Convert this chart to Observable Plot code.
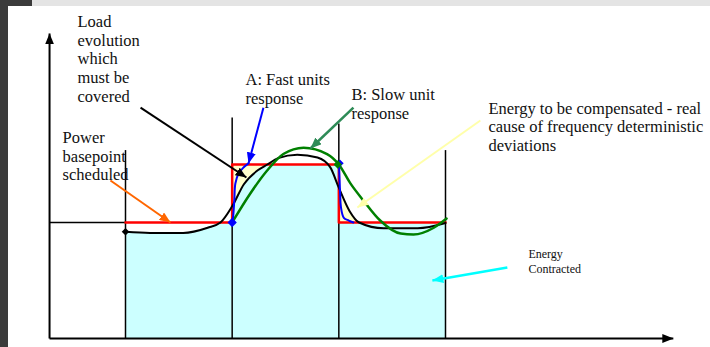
<!DOCTYPE html>
<html>
<head>
<meta charset="utf-8">
<script src="https://cdn.jsdelivr.net/npm/d3@7"></script>
<script src="https://cdn.jsdelivr.net/npm/@observablehq/plot@0.6"></script>
<style>
  html, body { margin: 0; padding: 0; background: #fff; }
</style>
</head>
<body>
<div id="chart"></div>
<script>
// ---- Data (time in scheduling periods, power in % of base) ----
const stepStart = [1, 2, 3];
const stepEnd   = [2, 3, 4];
const stepLevel = [100, 150, 100];

const dividerT   = [1, 2, 3, 4];
const dividerTop = [162, 190, 185, 162];

const loadT = [1, 1.23, 1.54, 1.77, 1.89, 2.0, 2.11, 2.24, 2.33, 2.43, 2.61, 2.8, 2.92, 3.0, 3.1, 3.19, 3.42, 3.74, 4.0];
const loadP = [92, 91, 91, 95.5, 100, 114, 133, 145, 150, 155.5, 158.5, 156, 147.5, 130, 110, 100, 95, 95, 99.5];

const slowT = [2.0, 2.17, 2.33, 2.48, 2.67, 2.89, 3.0, 3.11, 3.23, 3.39, 3.58, 3.7, 3.89, 4.01];
const slowP = [100, 125, 145, 159, 164.5, 159, 150, 133.5, 119, 101.5, 90.5, 89.7, 95.5, 103.4];

const fastUpT = [2.0, 2.01, 2.02, 2.03, 2.06, 2.106, 2.153];
const fastUpP = [100, 106, 119, 133.6, 142.2, 147.4, 151];
const fastDownT = [3.0, 3.005, 3.012, 3.02, 3.047, 3.094, 3.137];
const fastDownP = [151, 142, 125, 113, 104, 101.7, 100];

const axisOrigin = 0.288;
const axisEndT = 6.136;
const axisEndP = 263;

// annotations (text and pointer arrows)
const labelText = [
  "Load\nevolution\nwhich\nmust be\ncovered",
  "Power\nbasepoint\nscheduled",
  "A: Fast units\nresponse",
  "B: Slow unit\nresponse",
  "Energy to be compensated - real\ncause of frequency deterministic\ndeviations"
];
const labelT = [0.55, 0.41, 2.125, 3.118, 4.402];
const labelP = [241.4, 157.5, 215.5, 202.6, 183];

const smallLabelText = ["Energy\nContracted"];
const smallLabelT = [4.777];
const smallLabelP = [66.8];

const arrowT1 = [1.141, 0.859, 2.293, 3.137, 4.327, 4.58];
const arrowP1 = [199.1, 136.2, 199, 199, 187.9, 61.2];
const arrowT2 = [2.134, 1.422, 2.153, 2.734, 3.174, 3.877];
const arrowP2 = [138.8, 100, 150.9, 163.8, 112.9, 50];
const arrowColor = ["#000000", "#ff6600", "#0000ff", "#2e8b57", "#ffffaa", "#00ffff"];
const arrowWidth = [2, 2, 2, 2.5, 2, 2.5];

// ---- tables built from arrays ----
const steps = stepStart.map((s, i) => ({x1: s, x2: stepEnd[i], level: stepLevel[i]}));
const redPath = [];
steps.forEach(s => { redPath.push({t: s.x1, v: s.level}); redPath.push({t: s.x2, v: s.level}); });
const load = loadT.map((t, i) => ({t, v: loadP[i]}));
const slow = slowT.map((t, i) => ({t, v: slowP[i]}));
const fastUp = fastUpT.map((t, i) => ({t, v: fastUpP[i]}));
const fastDown = fastDownT.map((t, i) => ({t, v: fastDownP[i]}));
const dividers = dividerT.map((t, i) => ({t, top: dividerTop[i]}));
const labels = labelText.map((text, i) => ({text, t: labelT[i], v: labelP[i]}));
const smallLabels = smallLabelText.map((text, i) => ({text, t: smallLabelT[i], v: smallLabelP[i]}));
const arrows = arrowT1.map((t, i) => ({t1: t, v1: arrowP1[i], t2: arrowT2[i], v2: arrowP2[i], c: arrowColor[i], w: arrowWidth[i]}));

const base = stepLevel[0];
const high = stepLevel[1];
const loadLeftGap = load.filter(d => d.t >= 1 && d.t <= 1.89);
const loadMidGap = load.filter(d => d.t >= 2 && d.t <= 2.33);
const loadRightGap = load.filter(d => d.t >= 3 && d.t <= 3.19);

const serif = "'Liberation Serif', Tinos, 'Times New Roman', 'DejaVu Serif', serif";
const curve = "monotone-x";

const marks = [
  Plot.rect(steps, {x1: "x1", x2: "x2", y1: d => 0, y2: "level", fill: "#ccffff"}),
  Plot.areaY(loadLeftGap, {x: "t", y1: "v", y2: d => base, fill: "#ffffff", curve}),
  Plot.areaY(loadMidGap, {x: "t", y1: "v", y2: d => high, fill: "#ffffcc", curve}),
  Plot.areaY(loadRightGap, {x: "t", y1: d => base, y2: "v", fill: "#ffffcc", curve}),
  Plot.ruleX(dividers, {x: "t", y1: d => 0, y2: "top", stroke: "#000", strokeWidth: 1.5}),
  Plot.ruleY([base], {x1: axisOrigin, x2: stepStart[0], stroke: "#000", strokeWidth: 1.5}),
  Plot.line(redPath, {x: "t", y: "v", stroke: "#ff0000", strokeWidth: 2.5}),
  Plot.line(load, {x: "t", y: "v", stroke: "#000", strokeWidth: 2, curve}),
  Plot.line(slow, {x: "t", y: "v", stroke: "#008000", strokeWidth: 2.5, curve}),
  Plot.line(fastUp, {x: "t", y: "v", stroke: "#0000ff", strokeWidth: 2, curve: "catmull-rom"}),
  Plot.line(fastDown, {x: "t", y: "v", stroke: "#0000ff", strokeWidth: 2, curve: "catmull-rom"}),
  Plot.dot([{t: load[0].t, v: load[0].v}], {x: "t", y: "v", symbol: "diamond2", r: 3.4, fill: "#000"}),
  Plot.dot([{t: fastUp[0].t, v: fastUp[0].v}], {x: "t", y: "v", symbol: "diamond2", r: 4.2, fill: "#0000ff"}),
  Plot.dot([{t: fastDown[0].t + 0.01, v: fastDown[0].v}], {x: "t", y: "v", symbol: "diamond2", r: 3.4, fill: "#0000ff"}),
  Plot.dot([{t: slow[6].t - 0.01, v: slow[6].v}], {x: "t", y: "v", symbol: "diamond2", r: 3.8, fill: "#008000"}),
  // axes drawn as arrows
  Plot.link([{}], {x1: () => axisOrigin, y1: () => 0, x2: () => axisOrigin, y2: () => axisEndP, stroke: "#000", strokeWidth: 2}),
  Plot.link([{}], {x1: () => axisOrigin, y1: () => 0, x2: () => axisEndT, y2: () => 0, stroke: "#000", strokeWidth: 2}),
  ...arrows.map(a => Plot.link([a], {x1: "t1", y1: "v1", x2: "t2", y2: "v2", stroke: a.c, strokeWidth: a.w})),
  Plot.text(labels, {x: "t", y: "v", text: "text", textAnchor: "start", lineAnchor: "middle",
    lineHeight: 1.13, fontSize: 16.5, fontFamily: serif, fill: "#111"}),
  Plot.text(smallLabels, {x: "t", y: "v", text: "text", textAnchor: "start", lineAnchor: "middle",
    lineHeight: 1.25, fontSize: 12, fontFamily: serif, fill: "#111"})
];

const svg = Plot.plot({
  width: 710,
  height: 347,
  margin: 0,
  x: {domain: [0, 6.4], range: [18.33, 701.0], axis: null},
  y: {domain: [0, 290], range: [338, 1.6], axis: null},
  style: "background: linear-gradient(90deg, #3b3b3b 8px, transparent 8px), linear-gradient(#3b3b3b, #3b3b3b) 0 0 / 32px 6px no-repeat, linear-gradient(180deg, #e4e4e4 6px, #ffffff 6px); overflow: visible;",
  marks
});

// filled triangular arrow heads on link marks
(function addHeads(svg) {
  const ns = "http://www.w3.org/2000/svg";
  const defs = document.createElementNS(ns, "defs");
  svg.insertBefore(defs, svg.firstChild);
  let i = 0;
  svg.querySelectorAll('g[aria-label="link"]').forEach(g => {
    const paths = g.querySelectorAll("path, line");
    paths.forEach(path => {
      const c = path.getAttribute("stroke") || g.getAttribute("stroke") || "#000";
      const id = "head" + (i++);
      const m = document.createElementNS(ns, "marker");
      m.setAttribute("id", id);
      m.setAttribute("viewBox", "0 0 10 10");
      m.setAttribute("refX", "10");
      m.setAttribute("refY", "5");
      m.setAttribute("markerWidth", "11");
      m.setAttribute("markerHeight", "9");
      m.setAttribute("markerUnits", "userSpaceOnUse");
      m.setAttribute("orient", "auto");
      m.setAttribute("preserveAspectRatio", "none");
      const p = document.createElementNS(ns, "path");
      p.setAttribute("d", "M0,0L10,5L0,10Z");
      p.setAttribute("fill", c);
      p.setAttribute("stroke", "none");
      m.appendChild(p);
      defs.appendChild(m);
      path.setAttribute("marker-end", `url(#${id})`);
    });
  });
})(svg);

document.getElementById("chart").appendChild(svg);
</script>
</body>
</html>
